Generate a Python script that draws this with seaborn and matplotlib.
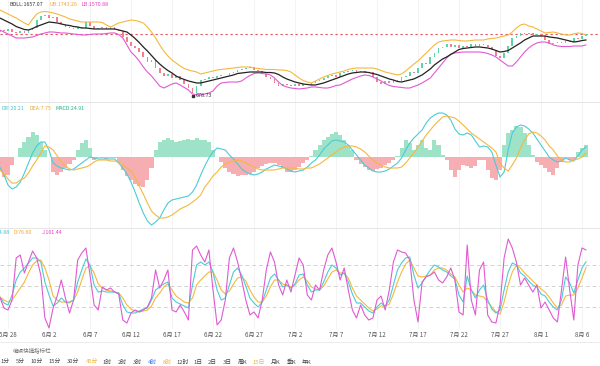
import numpy as np
import matplotlib
matplotlib.use("Agg")
import matplotlib.pyplot as plt
from matplotlib.lines import Line2D
import seaborn as sns

# ---------------- data ----------------
tick_days = [0, 5, 10, 15, 20, 25, 30, 35, 40, 45, 50, 55, 60, 65, 70]
tick_labels = ["5月 28", "6月 2", "6月 7", "6月 12", "6月 17", "6月 22", "6月 27",
               "7月 2", "7月 7", "7月 12", "7月 17", "7月 22", "7月 27", "8月 1", "8月 6"]

close = [1832, 1815, 1850, 1797, 1780, 1815, 1780, 1832, 1867, 2007, 2077, 2095,
         2042, 2060, 1972, 1937, 1885, 1867, 1850, 1885, 1867, 1972, 1902, 1850,
         1867, 1885, 1850, 1885, 1832, 1815, 1710, 1622, 1552, 1517, 1447, 1360,
         1272, 1307, 1167, 1080, 1027, 1062, 992, 1027, 957, 887, 817, 730,
         852, 957, 975, 1010, 992, 1027, 1045, 1045, 1080, 1097, 1132, 1150,
         1167, 1185, 1132, 1115, 1062, 1010, 975, 905, 852, 887, 870, 852,
         887, 852, 887, 870, 905, 940, 957, 992, 1027, 1045, 1010, 1080,
         1097, 1115, 1132, 1097, 1115, 1080, 1097, 1010, 922, 887, 940, 905,
         957, 940, 1010, 1027, 1097, 1080, 1167, 1255, 1237, 1360, 1430, 1517,
         1535, 1587, 1535, 1570, 1517, 1552, 1535, 1587, 1552, 1587, 1570, 1535,
         1482, 1377, 1342, 1430, 1552, 1692, 1727, 1780, 1762, 1780, 1745, 1762,
         1727, 1657, 1587, 1605, 1622, 1605, 1640, 1622, 1692, 1675, 1727, 1760]
first_open = 1800

boll_mid = [2042, 2007, 1972, 1937, 1893, 1867, 1841, 1832, 1858, 1893, 1920, 1946,
            1972, 1963, 1955, 1937, 1920, 1911, 1893, 1885, 1867, 1867, 1858, 1850,
            1850, 1850, 1850, 1850, 1850, 1832, 1815, 1797, 1745, 1683, 1613, 1535,
            1465, 1386, 1307, 1237, 1176, 1123, 1080, 1027, 992, 966, 940, 922,
            905, 905, 922, 940, 957, 975, 992, 1010, 1027, 1045, 1071, 1080,
            1088, 1097, 1097, 1097, 1097, 1088, 1088, 1080, 1053, 1010, 975, 948,
            922, 905, 887, 878, 870, 870, 887, 905, 931, 957, 983, 1010,
            1036, 1062, 1080, 1088, 1097, 1097, 1088, 1071, 1053, 1027, 1001, 975,
            957, 931, 922, 940, 957, 975, 1010, 1045, 1097, 1150, 1220, 1272,
            1325, 1360, 1403, 1447, 1491, 1508, 1517, 1526, 1535, 1535, 1526, 1517,
            1500, 1473, 1447, 1456, 1473, 1517, 1561, 1605, 1657, 1692, 1727, 1727,
            1727, 1727, 1710, 1701, 1692, 1675, 1657, 1640, 1622, 1631, 1648, 1657.07]

boll_ub = [2182, 2147, 2112, 2077, 2042, 1998, 1955, 1920, 2025, 2112, 2147, 2156,
           2147, 2130, 2112, 2086, 2060, 2025, 2007, 1990, 1972, 1972, 1972, 1972,
           1972, 1963, 1920, 1885, 1920, 1955, 1972, 1990, 2007, 1998, 1981, 1955,
           1885, 1797, 1692, 1570, 1465, 1377, 1307, 1255, 1202, 1158, 1132, 1115,
           1097, 1062, 1080, 1097, 1115, 1132, 1141, 1150, 1158, 1167, 1176, 1185,
           1185, 1185, 1167, 1158, 1150, 1141, 1141, 1141, 1132, 1132, 1123, 1097,
           1045, 992, 948, 922, 905, 940, 975, 1010, 1036, 1062, 1080, 1097,
           1115, 1141, 1158, 1167, 1167, 1167, 1167, 1167, 1150, 1123, 1097, 1080,
           1062, 1045, 1062, 1115, 1176, 1237, 1290, 1360, 1430, 1500, 1570, 1622,
           1640, 1648, 1657, 1657, 1648, 1640, 1640, 1648, 1657, 1657, 1657, 1675,
           1683, 1692, 1710, 1727, 1745, 1797, 1867, 1920, 1937, 1902, 1885, 1850,
           1815, 1780, 1788, 1797, 1780, 1762, 1745, 1745, 1762, 1780, 1771, 1743.26]

boll_lb = [1832, 1797, 1762, 1727, 1692, 1692, 1692, 1701, 1710, 1736, 1762, 1780,
           1797, 1797, 1788, 1780, 1780, 1771, 1762, 1753, 1745, 1745, 1753, 1762,
           1762, 1762, 1771, 1780, 1780, 1753, 1692, 1570, 1447, 1377, 1290, 1185,
           1097, 1027, 940, 852, 817, 852, 887, 905, 870, 826, 782, 712,
           695, 695, 712, 730, 765, 852, 905, 913, 922, 922, 922, 940,
           992, 1036, 1071, 1080, 1071, 1062, 1045, 992, 922, 861, 835, 817,
           808, 800, 808, 817, 835, 835, 826, 817, 817, 835, 861, 870,
           905, 940, 975, 1001, 1027, 1045, 1036, 1010, 975, 940, 896, 861,
           843, 835, 826, 817, 817, 843, 870, 905, 948, 992, 1080, 1167,
           1255, 1342, 1412, 1430, 1438, 1447, 1447, 1447, 1447, 1447, 1438, 1421,
           1395, 1360, 1307, 1255, 1202, 1202, 1272, 1360, 1447, 1517, 1570, 1605,
           1622, 1622, 1605, 1570, 1552, 1543, 1543, 1543, 1552, 1552, 1552, 1570.88]

low_day = 22.5
low_price = 678.73

dif = [-20, -36, -56, -64, -60, -50, -32, -12, 8, 22, 30, 30,
       14, -12, -18, -22, -24, -26, -24, -18, -12, -6, 0, -2,
       -4, -4, -4, -4, -4, -12, -22, -34, -50, -70, -92, -112,
       -128, -136, -130, -122, -106, -92, -86, -84, -82, -80, -78, -70,
       -56, -36, -18, -2, 10, 18, 16, 14, 4, -4, -14, -24,
       -30, -34, -36, -34, -30, -24, -20, -16, -18, -20, -24, -28,
       -30, -28, -26, -20, -12, -6, 4, 16, 24, 32, 34, 32,
       30, 24, 14, 4, -6, -16, -22, -28, -30, -30, -28, -24,
       -18, -12, -2, 14, 28, 38, 46, 54, 68, 78, 84, 88,
       88, 84, 74, 56, 46, 44, 48, 44, 32, 20, 22, 20,
       10, -16, -40, -30, 14, 48, 60, 64, 62, 56, 48, 36,
       24, 12, 0, -6, -10, -8, -2, -6, -8, 2, 14, 20.21]

dea = [-26, -34, -44, -52, -52, -46, -42, -32, -18, -6, 8, 22,
       20, 14, 2, -10, -18, -24, -26, -24, -22, -20, -16, -10,
       -6, -6, -6, -8, -8, -10, -16, -22, -28, -40, -58, -74,
       -92, -108, -116, -122, -122, -120, -116, -110, -104, -100, -96, -90,
       -84, -76, -60, -50, -38, -30, -20, -14, -10, -8, -6, -8,
       -12, -16, -20, -24, -26, -26, -26, -26, -24, -22, -22, -22,
       -22, -24, -24, -22, -22, -18, -14, -8, -2, 4, 10, 16,
       20, 22, 22, 20, 16, 10, 2, -6, -12, -16, -20, -22,
       -22, -22, -20, -12, -2, 8, 20, 32, 44, 54, 64, 72,
       80, 82, 80, 78, 72, 64, 56, 48, 42, 36, 30, 24,
       18, 10, -12, -22, -28, -16, -2, 18, 34, 46, 50, 48,
       42, 34, 22, 14, 2, -6, -10, -10, -6, -4, 0, 7.75]

macd_hist = [-26, -40, -36, -16, 0, 18, 30, 40, 50, 44, 30, 14,
             0, -30, -36, -30, -22, -14, -6, 14, 28, 34, 18, -6,
             -2, -2, -4, -2, -2, -12, -26, -38, -46, -54, -58, -60,
             -46, -22, 14, 30, 34, 38, 34, 30, 32, 34, 36, 34,
             38, 34, 34, 30, 14, 0, -10, -22, -30, -34, -38, -36,
             -36, -34, -30, -22, -18, -14, -12, -12, -16, -22, -30, -30,
             -26, -20, -12, -6, 2, 14, 24, 34, 40, 46, 50, 44,
             34, 24, 14, -6, -14, -20, -26, -28, -24, -22, -16, -12,
             -6, 2, 18, 34, 28, 14, 24, 34, 18, 14, 34, 24,
             4, -6, -26, -40, -26, -16, -18, -22, -18, -6, -6, -26,
             -42, -46, -26, 24, 48, 54, 62, 60, 48, 24, 4, -10,
             -16, -22, -30, -36, -22, -10, -2, -6, -6, 10, 18, 24.91]

k_line = [34.3, 25.7, 22.9, 37.1, 58.6, 70, 75.7, 82.9, 90, 90, 84.3, 55.7,
          37.1, 21.4, 25.7, 32.9, 27.1, 27.1, 30, 55.7, 72.9, 88.6, 80, 51.4,
          41.4, 42.9, 41.4, 41.4, 41.4, 40, 22.9, 12.9, 11.4, 11.4, 14.3, 17.1,
          18.6, 30, 44.3, 48.6, 52.9, 55.7, 32.9, 27.1, 24.3, 21.4, 18.6, 51.4,
          80, 84.3, 80, 84.3, 70, 44.3, 30, 32.9, 51.4, 70, 75.7, 65.7,
          50, 32.9, 25.7, 20, 27.1, 44.3, 61.4, 67.1, 58.6, 48.6, 51.4, 47.1,
          52.9, 65.7, 67.1, 51.4, 41.4, 44.3, 44.3, 55.7, 70, 80, 75.7, 65.7,
          68.6, 55.7, 38.6, 25.7, 25.7, 20, 14.3, 11.4, 20, 25.7, 21.4, 30,
          51.4, 72.9, 82.9, 90, 91.4, 65.7, 47.1, 54.3, 64.3, 72.9, 80, 77.1,
          72.9, 70, 64.3, 60, 37.1, 27.1, 64.3, 44.3, 32.9, 44.3, 51.4, 30,
          17.1, 11.4, 15.7, 44.3, 70, 82.9, 80, 68.6, 64.3, 57.1, 51.4, 48.6,
          38.6, 35.7, 27.1, 20, 15.7, 30, 62.9, 54.3, 40, 58.6, 75.7, 84.88]

d_line = [34.3, 30, 27.1, 30, 38.6, 47.1, 55.7, 68.6, 80, 85.7, 87.1, 75.7,
          58.6, 35.7, 30, 27.1, 27.1, 25.7, 30, 41.4, 58.6, 75.7, 78.6, 68.6,
          52.9, 47.1, 44.3, 42.9, 41.4, 40, 32.9, 22.9, 17.1, 14.3, 12.9, 14.3,
          15.7, 21.4, 32.9, 40, 48.6, 52.9, 44.3, 35.7, 31.4, 27.1, 25.7, 32.9,
          51.4, 58.6, 64.3, 70, 70, 58.6, 44.3, 38.6, 42.9, 52.9, 61.4, 62.9,
          57.1, 44.3, 34.3, 27.1, 27.1, 35.7, 48.6, 58.6, 58.6, 52.9, 51.4, 48.6,
          51.4, 58.6, 62.9, 57.1, 48.6, 45.7, 44.3, 50, 60, 70, 72.9, 68.6,
          68.6, 61.4, 47.1, 35.7, 30, 24.3, 18.6, 14.3, 17.1, 21.4, 21.4, 24.3,
          38.6, 55.7, 70, 81.4, 87.1, 75.7, 64.3, 62.9, 64.3, 65.7, 72.9, 75.7,
          75.7, 72.9, 67.1, 62.9, 51.4, 41.4, 47.1, 44.3, 37.1, 35.7, 34.3, 27.1,
          20, 12.9, 10, 27.1, 51.4, 70, 80, 75.7, 68.6, 62.9, 57.1, 51.4,
          45.7, 41.4, 34.3, 25.7, 18.6, 22.9, 35.7, 37.1, 37.1, 47.1, 61.4, 76.60]

j_line = [34.3, 18.6, 15.7, 30, 90, 94.3, 68.6, 84.3, 100, 90, 65.7, 4.3,
          -10, 18.6, 35.7, 58.6, 32.9, 11.4, 30, 87.1, 97.1, 104.3, 65.7, 22.9,
          15.7, 48.6, 44.3, 47.1, 41.4, 38.6, 1.4, -2.9, 11.4, 15.7, 12.9, 15.7,
          20, 32.9, 72.9, 47.1, 58.6, 72.9, 15.7, 12.9, 22.9, 12.9, 1.4, 101.4,
          107.1, 94.3, 84.3, 101.4, 44.3, -5.7, 1.4, 30, 90, 104.3, 84.3, 58.6,
          30, 8.6, 12.9, 4.3, 30, 72.9, 98.6, 84.3, 51.4, 37.1, 58.6, 41.4,
          65.7, 90, 80, 37.1, 30, 51.4, 44.3, 72.9, 94.3, 104.3, 84.3, 58.6,
          75.7, 44.3, 15.7, 4.3, 22.9, 8.6, 1.4, 4.3, 30, 35.7, 15.7, 44.3,
          84.3, 101.4, 98.6, 97.1, 87.1, 30, -1.4, 55.7, 62.9, 65.7, 70, 58.6,
          54.3, 62.9, 75.7, 58.6, 12.9, 8.6, 108.6, 30, 8.6, 72.9, 84.3, 8.6,
          -1.4, -2.9, 22.9, 90, 117.1, 104.3, 84.3, 51.4, 61.4, 51.4, 41.4, 51.4,
          18.6, 27.1, 15.7, 4.3, -1.4, 44.3, 91.4, 44.3, 1.4, 80, 104.3, 101.44]

kdj_levels = [80, 50, 20]

period_buttons = ["1分", "5分", "10分", "15分", "30分", "45分", "1时", "2时", "3时", "4时",
                  "8时", "12时", "1日", "2日", "3日", "周K", "15日", "月K", "季K", "年K"]
period_highlight = {"45分": "#f2b233", "8时": "#f2b233", "15日": "#f2b233", "4时": "#3f7be6"}

# ---------------- style ----------------
sns.set_theme(style="white")
plt.rcParams["font.family"] = ["Noto Sans CJK SC", "DejaVu Sans"]

W, H = 600, 366
fig = plt.figure(figsize=(W / 100, H / 100), dpi=100)


def fx(px):
    return px / W


def fy(py):
    return 1 - py / H


ax_p = fig.add_axes([0, fy(102), 1, 102 / H])
ax_m = fig.add_axes([0, fy(228), 1, 126 / H])
ax_k = fig.add_axes([0, fy(329), 1, 101 / H])

t = np.arange(-1, 71, 0.5)
x_lo, x_hi = -8 / 8.2, (600 - 8) / 8.2

C_UP, C_DN = "#5fd3a8", "#f1808a"
C_ORANGE, C_PINK, C_CYAN = "#f5b83d", "#e05ad2", "#4ccbd6"

for ax in (ax_p, ax_m, ax_k):
    ax.set_xlim(x_lo, x_hi)
    for s in ax.spines.values():
        s.set_visible(False)
    ax.set_yticks([])
    ax.set_xticks(tick_days)
    ax.tick_params(axis="x", length=0, labelbottom=False)
    ax.grid(axis="x", color="#f1f1f1", lw=0.6)
    ax.grid(axis="y", visible=False)
    ax.set_facecolor("white")
for ax in (ax_m, ax_k):
    ax.spines["top"].set_visible(True)
    ax.spines["top"].set_color("#e6e6e6")
    ax.spines["top"].set_linewidth(0.7)

# ---- price panel ----
opens = np.array([first_open] + close[:-1], dtype=float)
cl = np.array(close, dtype=float)
up = cl >= opens
bottoms = np.minimum(opens, cl)
heights = np.maximum(np.abs(cl - opens), 6)
ax_p.bar(t, heights, bottom=bottoms, width=0.2,
         color=np.where(up, C_UP, C_DN), edgecolor="none", zorder=2)
sns.lineplot(x=t, y=boll_ub, ax=ax_p, color=C_ORANGE, lw=0.8, legend=False, zorder=3)
sns.lineplot(x=t, y=boll_lb, ax=ax_p, color=C_PINK, lw=0.8, legend=False, zorder=3)
sns.lineplot(x=t, y=boll_mid, ax=ax_p, color="#222222", lw=0.9, legend=False, zorder=3)
ax_p.axhline(close[-1], color="#e8505b", lw=0.8, ls=(0, (2, 2.5)), zorder=1)
ax_p.plot([low_day], [low_price], marker="s", ms=1.6, color="#333333")
ax_p.text(low_day + 0.4, low_price, f"{low_price:.2f}", fontsize=3.9, color="#333333",
          va="center", ha="left")
ax_p.set_ylim(2357 - 17.5 * 102, 2357)
ax_p.set_ylabel("")

# ---- MACD panel ----
hist = np.array(macd_hist, dtype=float)
ax_m.bar(t, hist, width=0.5, color=np.where(hist >= 0, "#9ee2c8", "#f6aeb2"),
         edgecolor="none", zorder=1)
sns.lineplot(x=t, y=dif, ax=ax_m, color=C_CYAN, lw=0.8, legend=False, zorder=3)
sns.lineplot(x=t, y=dea, ax=ax_m, color=C_ORANGE, lw=0.8, legend=False, zorder=3)
ax_m.set_ylim(-142, 110)
ax_m.set_ylabel("")

# ---- KDJ panel ----
for lv in kdj_levels:
    ax_k.axhline(lv, color="#d2d2d2", lw=0.7, ls=(0, (4, 3)), zorder=1)
sns.lineplot(x=t, y=d_line, ax=ax_k, color=C_ORANGE, lw=0.8, legend=False, zorder=3)
sns.lineplot(x=t, y=k_line, ax=ax_k, color=C_CYAN, lw=0.8, legend=False, zorder=3)
sns.lineplot(x=t, y=j_line, ax=ax_k, color=C_PINK, lw=0.8, legend=False, zorder=4)
ax_k.set_ylim(50 + (286 - 329) * 30 / 21, 50 + (286 - 228) * 30 / 21)
ax_k.set_ylabel("")
ax_k.set_xlabel("")
ax_k.tick_params(axis="x", labelbottom=True, pad=1.5, labelsize=4.4, labelcolor="#555555")
ax_k.set_xticklabels(tick_labels)

# ---- legends ----
fs = 3.8
fig.text(fx(43), fy(5), f"BOLL:{boll_mid[-1]:.2f}", ha="right", va="center", fontsize=fs, color="#333333")
fig.text(fx(50), fy(5), f"UB:{boll_ub[-1]:.2f}", ha="left", va="center", fontsize=fs, color="#f0a626")
fig.text(fx(82), fy(5), f"LB:{boll_lb[-1]:.2f}", ha="left", va="center", fontsize=fs, color="#e03cc6")

fig.text(fx(2), fy(108), f"DIF:{dif[-1]:.2f}", ha="left", va="center", fontsize=fs, color="#3cc3cf")
fig.text(fx(30), fy(108), f"DEA:{dea[-1]:.2f}", ha="left", va="center", fontsize=fs, color="#f0a626")
fig.text(fx(56), fy(108), f"MACD:{macd_hist[-1]:.2f}", ha="left", va="center", fontsize=fs, color="#22b37f")

fig.text(fx(10), fy(232), f"K:{k_line[-1]:.2f}", ha="right", va="center", fontsize=fs, color="#3cc3cf")
fig.text(fx(13), fy(232), f"D:{d_line[-1]:.2f}", ha="left", va="center", fontsize=fs, color="#f0a626")
fig.text(fx(42), fy(232), f"J:{j_line[-1]:.2f}", ha="left", va="center", fontsize=fs, color="#e03cc6")

# ---- bottom bar ----
fig.add_artist(Line2D([0, 1], [fy(342), fy(342)], color="#e8e8e8", lw=0.6))
fig.text(fx(13), fy(350), "编辑快捷指标栏", ha="left", va="center", fontsize=4.0, color="#777777")
btn_x = [5, 20, 37, 55, 73, 92, 107, 122, 137, 152, 167, 183, 198, 212.5, 227.5, 243, 259, 276, 292, 307]
for lab, bx in zip(period_buttons, btn_x):
    fig.text(fx(bx), fy(362), lab, ha="center", va="center", fontsize=4.2,
             color=period_highlight.get(lab, "#444444"))

fig.savefig("out.png", dpi=100)
